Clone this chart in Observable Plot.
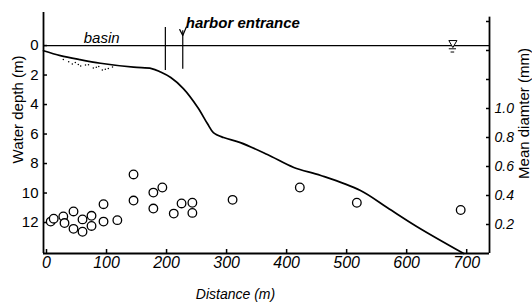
<!DOCTYPE html>
<html><head><meta charset="utf-8">
<script src="https://cdn.jsdelivr.net/npm/d3@7"></script>
<script src="https://cdn.jsdelivr.net/npm/@observablehq/plot@0.6"></script>
<style>
body{margin:0;background:#fff;}
#chart{position:relative;width:532px;height:304px;}
#chart svg{position:absolute;left:0;top:0;}
</style></head><body><div id="chart"></div>
<script>
// Bottom profile (distance m, water depth m)
const profileDistance = [0, 28, 60, 95, 150, 180, 195, 212, 233, 257, 273, 283, 300, 328, 373, 417, 462, 528, 573, 623, 700];
const profileDepth    = [0.35, 0.68, 0.95, 1.2, 1.47, 1.56, 1.8, 2.17, 2.92, 4.2, 5.29, 5.9, 6.24, 6.58, 7.39, 8.27, 8.81, 9.83, 11.0, 12.3, 14.1];

// Sediment sampling points (distance m, mean diameter mm)
const sampleDistance = [12, 17, 33, 35, 50, 50, 65, 65, 80, 80, 100, 100, 123, 150, 150, 183, 198, 183, 217, 230, 248, 248, 315, 427, 522, 695];
const sampleDiameter = [0.22, 0.24, 0.255, 0.21, 0.29, 0.17, 0.235, 0.15, 0.26, 0.19, 0.34, 0.22, 0.23, 0.545, 0.365, 0.42, 0.455, 0.31, 0.275, 0.345, 0.35, 0.28, 0.37, 0.455, 0.35, 0.30];

// Stippled deposit in the basin
const depositDistance = [33, 42, 48, 53, 62, 70, 75, 83, 92, 98, 103, 108, 115, 58, 88];
const depositDepth    = [0.95, 1.1, 1.25, 1.15, 1.38, 1.32, 1.3, 1.52, 1.42, 1.66, 1.6, 1.55, 1.45, 1.28, 1.48];

// Ticks
const xTicks = [0, 100, 200, 300, 400, 500, 600, 700];
const depthTicks = [0, 2, 4, 6, 8, 10, 12];
const diamTicks = [0.2, 0.4, 0.6, 0.8, 1.0, 1.2, 1.4, 1.6];
const diamLabeled = ["0.2", "0.4", "0.6", "0.8", "1.0"];

// Domains
const xDomain = [0, 743];
const depthDomain = [-2.24, 14.1];
const diamDomain = [0, 1.662];

// Annotations
const waterLevel = 0;
const basinEdge = {x: 203, top: -1.22, bottom: 1.7};
const entrance = {x: 232, top: -1.0, bottom: 1.6};
const entranceArrow = [{x: 227, d: -1.08}, {x: 232, d: -0.68}, {x: 238, d: -1.25}];
const waterMark = {x: 682, d: -0.18};
const waterMarkLines = [{d: 0.22, x1: 676, x2: 688}, {d: 0.44, x1: 679, x2: 685}];
const basinLabel = {text: "basin", x: 67, d: -0.2};
const entranceLabel = {text: "harbor entrance", x: 237, d: -1.22};

const profile = profileDistance.map((x, i) => ({x, d: profileDepth[i]}));
const samples = sampleDistance.map((x, i) => ({x, m: sampleDiameter[i]}));
const deposit = depositDistance.map((x, i) => ({x, d: depositDepth[i]}));

const common = {
  width: 532, height: 304,
  marginLeft: 43, marginRight: 43, marginTop: 12, marginBottom: 51
};
const ff = "Liberation Sans";

const p1 = Plot.plot({
  ...common,
  style: {fontFamily: ff, background: "white", color: "black"},
  x: {domain: xDomain, label: null},
  y: {domain: depthDomain, reverse: true, label: null},
  marks: [
    Plot.ruleY([waterLevel], {x1: xDomain[0], x2: xDomain[1], stroke: "black", strokeWidth: 1.2}),
    Plot.ruleX([xDomain[0]], {y1: depthDomain[0], y2: depthDomain[1], stroke: "black", strokeWidth: 1.8}),
    Plot.ruleY([depthDomain[1]], {x1: xDomain[0], x2: xDomain[1], stroke: "black", strokeWidth: 1.8}),
    Plot.dot(deposit, {x: "x", y: "d", r: 0.75, fill: "black", stroke: null}),
    Plot.line(profile, {x: "x", y: "d", curve: "catmull-rom", stroke: "black", strokeWidth: 1.7}),
    Plot.ruleX([basinEdge], {x: "x", y1: "top", y2: "bottom", stroke: "black", strokeWidth: 1.2}),
    Plot.ruleX([entrance], {x: "x", y1: "top", y2: "bottom", stroke: "black", strokeWidth: 1.2}),
    Plot.line(entranceArrow, {x: "x", y: "d", stroke: "black", strokeWidth: 1.2}),
    Plot.dot([waterMark], {x: "x", y: "d", symbol: "triangle", rotate: 180, r: 3, stroke: "black", strokeWidth: 1, fill: "white"}),
    Plot.ruleY(waterMarkLines, {y: "d", x1: "x1", x2: "x2", stroke: "black", strokeWidth: 1}),
    Plot.text([basinLabel], {x: "x", y: "d", text: "text", textAnchor: "start", lineAnchor: "bottom", fontSize: 15, fontStyle: "italic", fontFamily: ff, letterSpacing: "2.5px", fill: "black"}),
    Plot.text([entranceLabel], {x: "x", y: "d", text: "text", textAnchor: "start", lineAnchor: "bottom", fontSize: 15, fontStyle: "italic", fontWeight: "bold", fontFamily: ff, letterSpacing: "1.2px", fill: "black"}),
    Plot.axisX({ticks: xTicks, tickSize: -4, tickPadding: 7, tickFormat: d => String(d), fontSize: 16, fontStyle: "italic", dx: 3, strokeWidth: 1.5}),
    Plot.axisY({ticks: depthTicks, anchor: "left", tickSize: -4, tickPadding: 9, tickFormat: d => String(d), fontSize: 15, strokeWidth: 1.5}),
    Plot.text(["Water depth (m)"], {frameAnchor: "top-left", dx: -25, dy: 97, rotate: -90, textAnchor: "middle", lineAnchor: "middle", fontSize: 15, fontFamily: ff, letterSpacing: "2px", fill: "black"}),
    Plot.text(["Distance (m)"], {frameAnchor: "top-left", dx: 192, dy: 282, textAnchor: "middle", lineAnchor: "middle", fontSize: 14, fontStyle: "italic", fontFamily: ff, letterSpacing: "1px", fill: "black"})
  ]
});

const p2 = Plot.plot({
  ...common,
  style: {fontFamily: ff, background: "transparent", color: "black"},
  x: {domain: xDomain, label: null, axis: null},
  y: {domain: diamDomain, label: null},
  marks: [
    Plot.ruleX([xDomain[1]], {y1: diamDomain[0], y2: 1.63, stroke: "black", strokeWidth: 1.8}),
    Plot.dot(samples, {x: "x", y: "m", r: 4.3, stroke: "black", strokeWidth: 1.3, fill: "white"}),
    Plot.axisY({ticks: diamTicks, anchor: "right", tickSize: -4, tickPadding: 9,
      tickFormat: d => diamLabeled.includes(d.toFixed(1)) ? d.toFixed(1) : "",
      fontSize: 14, fontStyle: "italic", strokeWidth: 1.5}),
    Plot.text(["Mean diamter (mm)"], {frameAnchor: "top-left", dx: 481, dy: 101, rotate: -90, textAnchor: "middle", lineAnchor: "middle", fontSize: 15, fontFamily: ff, letterSpacing: "2px", fill: "black"})
  ]
});

const root = document.getElementById("chart");
root.appendChild(p1);
root.appendChild(p2);
</script>
</body></html>
